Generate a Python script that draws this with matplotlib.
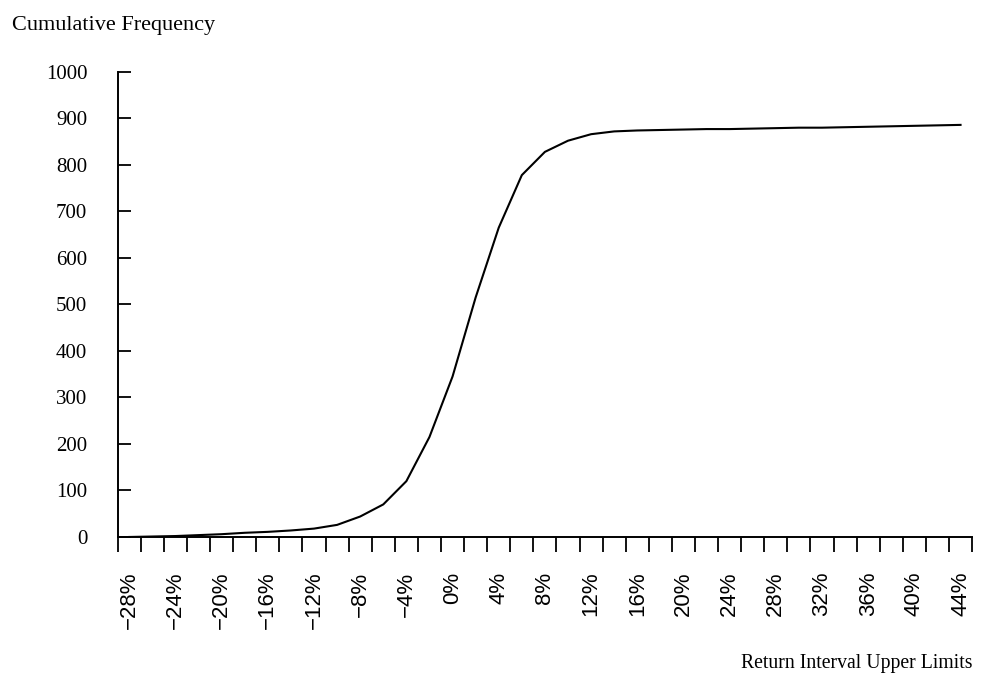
import matplotlib
matplotlib.use("Agg")
import matplotlib.pyplot as plt

# return interval upper limits (%), one per 2% bin
upper_limits = [-28, -26, -24, -22, -20, -18, -16, -14, -12, -10, -8, -6, -4, -2,
                0, 2, 4, 6, 8, 10, 12, 14, 16, 18, 20, 22, 24, 26, 28, 30, 32,
                34, 36, 38, 40, 42, 44]
# cumulative frequency
cum_freq = [0, 1, 2, 4, 6, 9, 11, 14, 18, 26, 44, 70, 120, 215,
            345, 515, 665, 778, 828, 852, 866, 872, 874, 875, 876, 877, 877,
            878, 879, 880, 880, 881, 882, 883, 884, 885, 886]
labelled = [-28, -24, -20, -16, -12, -8, -4, 0, 4, 8, 12, 16, 20, 24, 28,
            32, 36, 40, 44]
y_ticks = [0, 100, 200, 300, 400, 500, 600, 700, 800, 900, 1000]

plt.rcParams['font.family'] = ['Liberation Serif', 'DejaVu Serif']

fig = plt.figure(figsize=(9.82, 6.78), dpi=100)
ax = fig.add_axes([0.1199, 0.208, 0.87, 0.686])

pos = list(range(len(upper_limits)))
ax.plot(pos, cum_freq, color='black', lw=1.5, solid_joinstyle='round')

ax.set_xlim(-0.5, len(upper_limits) - 0.5)
ax.set_ylim(0, 1000)

for s in ('top', 'right'):
    ax.spines[s].set_visible(False)
for s in ('left', 'bottom'):
    ax.spines[s].set_linewidth(1.4)

# bin edges carry the ticks, labels sit in the middle of the bins
edges = [p - 0.5 for p in pos] + [pos[-1] + 0.5]
ax.set_xticks(edges)
ax.set_xticklabels([])
lab_pos = [pos[upper_limits.index(v)] for v in labelled]
ax.set_xticks(lab_pos, minor=True)
ax.set_xticklabels([f"{v}%".replace('-', '\u2212') for v in labelled],
                   minor=True, rotation=90, fontsize=16,
                   family=['Liberation Sans', 'DejaVu Sans'])
ax.tick_params(axis='x', which='major', direction='out', length=11, width=1.3)
ax.tick_params(axis='x', which='minor', length=0, pad=25)

ax.set_yticks(y_ticks)
ax.set_yticklabels([str(v) for v in y_ticks], fontsize=15)
ax.tick_params(axis='y', direction='in', length=9, width=1.3, pad=22)

fig.text(0.012, 0.963, 'Cumulative Frequency', fontsize=16, va='center', ha='left')
fig.text(0.99, 0.022, 'Return Interval Upper Limits', fontsize=14.2,
         va='center', ha='right')

fig.savefig('out.png', dpi=100)
